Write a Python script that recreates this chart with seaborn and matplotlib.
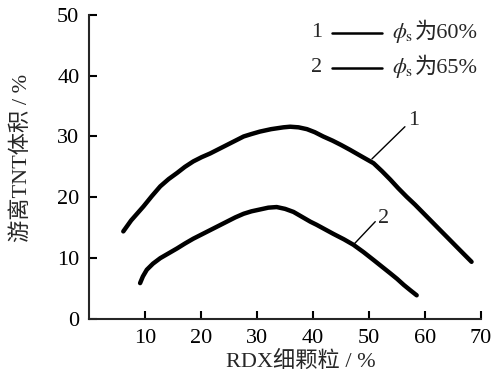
"""
RDX fine particle content vs free TNT volume, two solid fractions.
"""
import pandas as pd
import seaborn as sns
import matplotlib.pyplot as plt

# curve 1: phi_s = 60 %
x1 = [6.1, 7.5, 9.7, 11.2, 12.7, 14.2, 15.7, 17.1, 18.6, 20.1, 21.6, 23.1,
      24.6, 26.1, 27.6, 29.0, 30.5, 32.5, 34.7, 35.9, 37.4, 38.9, 40.3, 41.8,
      43.5, 45.0, 46.6, 48.5, 50.8, 52.3, 53.8, 55.2, 56.7, 58.2, 59.7, 61.2,
      62.7, 64.1, 65.6, 67.0, 68.3]
y1 = [14.4, 16.2, 18.5, 20.2, 21.8, 23.0, 24.0, 25.0, 25.9, 26.6, 27.2, 27.9,
      28.6, 29.3, 30.0, 30.4, 30.8, 31.2, 31.5, 31.6, 31.5, 31.2, 30.7, 30.0,
      29.3, 28.6, 27.8, 26.8, 25.6, 24.3, 22.9, 21.5, 20.1, 18.8, 17.4, 16.0,
      14.6, 13.3, 11.9, 10.6, 9.4]
# curve 2: phi_s = 65 %
x2 = [9.1, 9.6, 10.3, 11.4, 12.7, 14.2, 15.7, 17.1, 18.6, 20.1, 21.6, 23.1,
      24.6, 26.1, 27.6, 29.0, 30.5, 32.0, 33.5, 35.0, 36.5, 38.0, 39.5, 40.6,
      41.8, 43.6, 45.5, 47.2, 49.0, 50.8, 52.3, 53.8, 55.0, 56.2, 57.4, 58.5]
y2 = [5.9, 7.0, 8.1, 9.1, 10.0, 10.8, 11.6, 12.4, 13.2, 13.9, 14.6, 15.3,
      16.0, 16.7, 17.3, 17.7, 18.0, 18.3, 18.4, 18.1, 17.6, 16.8, 16.0, 15.5,
      14.9, 14.0, 13.1, 12.2, 11.0, 9.7, 8.6, 7.5, 6.6, 5.6, 4.7, 3.9]

series_names = ["1", "2"]
legend_labels = ["为60%", "为65%"]
x_ticks = [10, 20, 30, 40, 50, 60, 70]
y_ticks = [0, 10, 20, 30, 40, 50]

df = pd.concat([
    pd.DataFrame({"x": x1, "y": y1, "curve": "1"}),
    pd.DataFrame({"x": x2, "y": y2, "curve": "2"}),
], ignore_index=True)

sns.set_style("ticks")
plt.rcParams["font.family"] = ["Liberation Serif", "Noto Sans CJK SC", "DejaVu Sans"]
plt.rcParams["mathtext.fontset"] = "stix"

fig = plt.figure(figsize=(4.98, 3.78), dpi=100)
ax = fig.add_axes([0.179, 0.156, 0.787, 0.805])

sns.lineplot(data=df, x="x", y="y", units="curve", estimator=None, sort=False,
             color="black", linewidth=3.2, solid_capstyle="round",
             solid_joinstyle="round", ax=ax)

ax.set_xlim(0, 70)
ax.set_ylim(0, 50)
ax.set_xticks(x_ticks)
ax.set_yticks(y_ticks)
ax.tick_params(direction="in", length=6, width=1.5, labelsize=16, pad=7,
               colors="black")
for side in ["top", "right"]:
    ax.spines[side].set_visible(False)
for side in ["left", "bottom"]:
    ax.spines[side].set_linewidth(1.5)

ax.set_xlabel("RDX细颗粒 / %", fontsize=16)
ax.set_ylabel("游离TNT体积 / %", fontsize=16)
ax.xaxis.set_label_coords(0.541, -0.105)
ax.yaxis.set_label_coords(-0.145, 0.53)

# curve labels with leader lines
ax.plot([50.5, 56.4], [26.3, 31.6], color="black", lw=1)
ax.text(56.9, 31.0, "1", fontsize=16, va="bottom")
ax.plot([47.2, 51.1], [12.2, 16.0], color="black", lw=1)
ax.text(51.6, 15.0, "2", fontsize=16, va="bottom")

# hand-made legend
for i, (name, lab) in enumerate(zip(series_names, legend_labels)):
    yy = 0.94 - i * 0.115
    ax.text(0.567, yy, name, transform=ax.transAxes, fontsize=16, va="center")
    ax.plot([0.62, 0.747], [yy, yy], transform=ax.transAxes, color="black", lw=1.8)
    ax.text(0.772, yy, r"$\phi_\mathrm{s}$", transform=ax.transAxes, fontsize=16,
            va="center")
    ax.text(0.83, yy, lab, transform=ax.transAxes, fontsize=16, va="center")

fig.savefig("out.png", dpi=100)
print("saved out.png")
